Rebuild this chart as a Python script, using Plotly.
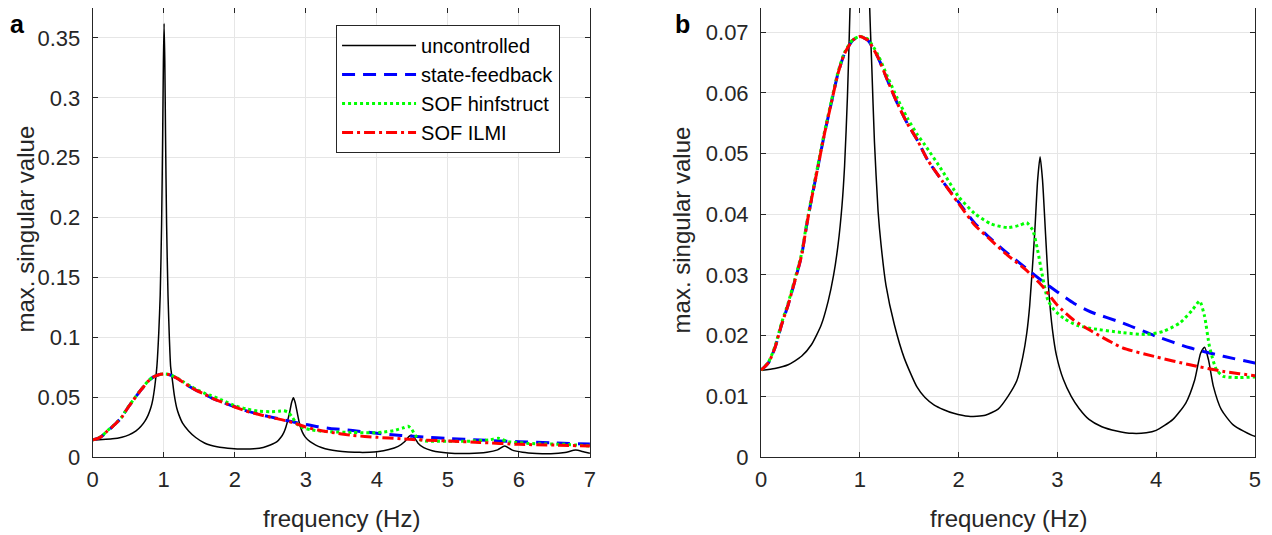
import plotly.graph_objects as go
from plotly.subplots import make_subplots

# uncontrolled response
f_unc = [0, 0.14, 0.275, 0.41, 0.51, 0.61, 0.68, 0.735, 0.78, 0.82, 0.846, 0.875, 0.903,
         0.93, 0.95, 0.97, 0.985, 0.995, 1.005, 1.015, 1.025, 1.04, 1.06, 1.08, 1.097,
         1.121, 1.148, 1.185, 1.215, 1.265, 1.35, 1.45, 1.58, 1.66, 1.75, 1.85, 1.95,
         2.10, 2.27, 2.40, 2.50, 2.59, 2.65, 2.69, 2.72, 2.77, 2.80, 2.825, 2.85, 2.88,
         2.915, 2.95, 2.99, 3.06, 3.14, 3.22, 3.32, 3.45, 3.6, 3.76, 3.9, 4.0, 4.17, 4.30,
         4.39, 4.45, 4.49, 4.53, 4.58, 4.66, 4.78, 5.0, 5.3, 5.55, 5.7, 5.8, 5.9, 6.05,
         6.25, 6.45, 6.65, 6.8, 6.92, 7.0]
unc = [0.0143, 0.0146, 0.0152, 0.0166, 0.0185, 0.0218, 0.0257, 0.0300, 0.0350, 0.0415,
       0.0480, 0.0595, 0.0753, 0.104, 0.135, 0.195, 0.27, 0.33, 0.362, 0.33, 0.27, 0.195,
       0.135, 0.098, 0.0755, 0.0645, 0.0520, 0.0405, 0.0350, 0.0283, 0.0218, 0.0163,
       0.0115, 0.0098, 0.0086, 0.0078, 0.0072, 0.0067, 0.0069, 0.0079, 0.0100, 0.0126,
       0.0165, 0.0204, 0.0250, 0.0368, 0.0456, 0.0495, 0.0456, 0.0368, 0.0270, 0.0210,
       0.0168, 0.0128, 0.0100, 0.0080, 0.0062, 0.0050, 0.0043, 0.0039, 0.0040, 0.0044,
       0.0062, 0.0089, 0.0127, 0.0171, 0.0181, 0.0160, 0.0116, 0.0078, 0.0053, 0.0034,
       0.0030, 0.0040, 0.0060, 0.0093, 0.0060, 0.0040, 0.0030, 0.0028, 0.0038, 0.0058,
       0.0042, 0.0032]

# SOF ILMI
f_ilmi = [0, 0.074, 0.141, 0.208, 0.275, 0.342, 0.409, 0.46, 0.51, 0.577, 0.644, 0.711,
          0.779, 0.846, 0.93, 1.0, 1.08, 1.18, 1.28, 1.38, 1.48, 1.58, 1.685, 1.83, 2.0,
          2.165, 2.33, 2.50, 2.67, 2.84, 3.0, 3.17, 3.34, 3.66, 4.0, 4.34, 4.68, 5.0,
          5.45, 6.0, 6.5, 7.0]
ilmi = [0.0143, 0.0155, 0.0180, 0.0218, 0.0251, 0.0290, 0.0331, 0.0380, 0.0424, 0.0479,
        0.0534, 0.0583, 0.0632, 0.0665, 0.0687, 0.0693, 0.0687, 0.0660, 0.0621, 0.0583,
        0.0550, 0.0523, 0.0490, 0.0456, 0.0418, 0.0382, 0.0357, 0.0332, 0.0310, 0.0283,
        0.0250, 0.0225, 0.0208, 0.0180, 0.0165, 0.0152, 0.0141, 0.0134, 0.0122, 0.0106,
        0.0100, 0.0092]

# state-feedback
f_sf = [0, 0.074, 0.141, 0.208, 0.275, 0.342, 0.409, 0.46, 0.51, 0.577, 0.644, 0.711,
        0.779, 0.846, 0.93, 1.0, 1.08, 1.18, 1.28, 1.38, 1.48, 1.58, 1.685, 1.83, 2.0,
        2.165, 2.33, 2.50, 2.67, 2.84, 3.0, 3.17, 3.34, 3.66, 4.0, 4.34, 4.68, 5.0,
        5.45, 6.0, 6.5, 7.0]
sf = [0.0143, 0.0155, 0.0180, 0.0218, 0.0251, 0.0290, 0.0331, 0.0380, 0.0424, 0.0479,
      0.0534, 0.0583, 0.0632, 0.0665, 0.0687, 0.0693, 0.0687, 0.0660, 0.0621, 0.0583,
      0.0550, 0.0523, 0.0490, 0.0456, 0.0420, 0.0385, 0.0359, 0.0335, 0.0313, 0.0291,
      0.0272, 0.0253, 0.0239, 0.0221, 0.0199, 0.0180, 0.0166, 0.0155, 0.0142, 0.0128,
      0.0117, 0.0108]

# SOF hinfstruct
f_hinf = [0, 0.074, 0.141, 0.208, 0.275, 0.342, 0.409, 0.46, 0.51, 0.577, 0.644, 0.711,
          0.779, 0.846, 0.93, 1.0, 1.08, 1.18, 1.28, 1.38, 1.48, 1.58, 1.66, 1.83, 2.0,
          2.165, 2.33, 2.50, 2.62, 2.69, 2.75, 2.80, 2.85, 2.905, 2.97, 3.07, 3.20, 3.34,
          3.66, 3.90, 4.07, 4.24, 4.37, 4.44, 4.49, 4.54, 4.61, 4.68, 4.84, 5.0, 5.33,
          5.6, 5.71, 5.85, 6.27, 6.65, 7.0]
hinf = [0.0143, 0.0156, 0.0182, 0.0221, 0.0254, 0.0293, 0.0334, 0.0383, 0.0427, 0.0482,
        0.0537, 0.0586, 0.0634, 0.0667, 0.0688, 0.0693, 0.0689, 0.0664, 0.0627, 0.0591,
        0.0559, 0.0532, 0.0514, 0.0473, 0.0429, 0.0401, 0.0384, 0.0378, 0.0382, 0.0386,
        0.0374, 0.0341, 0.0297, 0.0258, 0.0242, 0.0228, 0.0217, 0.0212, 0.0205, 0.0202,
        0.0207, 0.0221, 0.0243, 0.0257, 0.0232, 0.0182, 0.0144, 0.0133, 0.0131, 0.0132,
        0.0133, 0.0145, 0.0156, 0.0128, 0.0110, 0.0106, 0.0092]

x_ticks_a = [0, 1, 2, 3, 4, 5, 6, 7]
y_ticks_a = [0, 0.05, 0.1, 0.15, 0.2, 0.25, 0.3, 0.35]
y_text_a = ["0", "0.05", "0.1", "0.15", "0.2", "0.25", "0.3", "0.35"]
x_ticks_b = [0, 1, 2, 3, 4, 5]
y_ticks_b = [0, 0.01, 0.02, 0.03, 0.04, 0.05, 0.06, 0.07]
y_text_b = ["0", "0.01", "0.02", "0.03", "0.04", "0.05", "0.06", "0.07"]

FONT = "Liberation Sans"
TXT = "#262626"

series = [
    ("uncontrolled", f_unc, unc, dict(color="black", width=1.5)),
    ("state-feedback", f_sf, sf, dict(color="#0000ff", width=3, dash="13px,8px")),
    ("SOF hinfstruct", f_hinf, hinf, dict(color="#00ff00", width=3, dash="3px,3px")),
    ("SOF ILMI", f_ilmi, ilmi, dict(color="#ff0000", width=3, dash="11px,4px,3px,4px")),
]

fig = make_subplots(rows=1, cols=2)
for col in (1, 2):
    for name, xs, ys, ln in series:
        fig.add_trace(go.Scatter(x=xs, y=ys, name=name, mode="lines",
                                 line=dict(shape="spline", smoothing=0.6, **ln),
                                 showlegend=(col == 1)), row=1, col=col)

ax = dict(showgrid=True, gridcolor="#e6e6e6", gridwidth=1, zeroline=False,
          showline=True, linecolor=TXT, linewidth=1, mirror="ticks",
          ticks="inside", ticklen=5, tickcolor=TXT,
          tickfont=dict(family=FONT, size=22, color=TXT), automargin=False)

fig.update_xaxes(ax, ticklabelstandoff=3)
fig.update_yaxes(ax, ticklabelstandoff=7)
# the page body adds an 8px offset, domains are set to compensate
fig.update_xaxes(domain=[0.0666, 0.4575], range=[0, 7], tickvals=x_ticks_a, row=1, col=1)
fig.update_xaxes(domain=[0.5920, 0.9803], range=[0, 5], tickvals=x_ticks_b, row=1, col=2)
fig.update_yaxes(domain=[0.1607, 1.0], range=[0, 0.375], tickvals=y_ticks_a, ticktext=y_text_a,
                 row=1, col=1)
fig.update_yaxes(domain=[0.1607, 1.0], range=[0, 0.074], tickvals=y_ticks_b, ticktext=y_text_b,
                 row=1, col=2)

lab = dict(family=FONT, size=24, color=TXT)
for xp in (0.2618, 0.7862):
    fig.add_annotation(text="frequency (Hz)", x=xp, y=0.0449, xref="paper", yref="paper",
                       xanchor="center", yanchor="middle", showarrow=False, font=lab)
for xp in (0.0134, 0.5298):
    fig.add_annotation(text="max. singular value", x=xp, y=0.586, xref="paper", yref="paper",
                       xanchor="center", yanchor="middle", showarrow=False, font=lab,
                       textangle=-90)

panel = dict(family=FONT, size=25, color="black", weight="bold")
fig.add_annotation(text="a", x=0.0, y=1.0, xref="paper", yref="paper",
                   xanchor="left", yanchor="top", showarrow=False, font=panel)
fig.add_annotation(text="b", x=0.530, y=1.0, xref="paper", yref="paper",
                   xanchor="center", yanchor="top", showarrow=False, font=panel)

fig.update_layout(
    width=1272, height=535, margin=dict(l=0, r=0, t=0, b=0),
    plot_bgcolor="white", paper_bgcolor="white",
    legend=dict(x=0.2579, y=0.968, xanchor="left", yanchor="top",
                bgcolor="white", bordercolor=TXT, borderwidth=1,
                font=dict(family=FONT, size=20, color="black"), itemwidth=74),
)

fig.write_html("out.html")
